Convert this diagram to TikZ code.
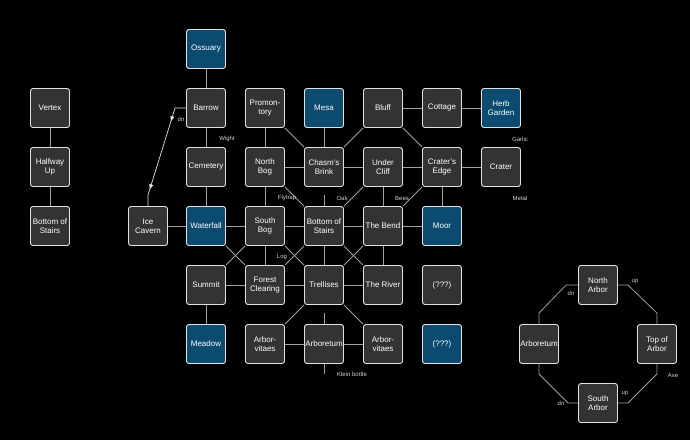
\documentclass[tikz,border=0pt]{standalone}
\usepackage{fontspec}
\setmainfont{Liberation Sans}
\usepackage{xcolor}
\usepackage{tikz}
\usetikzlibrary{arrows.meta, calc, decorations.markings}

\definecolor{roomfill}{HTML}{333333}
\definecolor{roomblue}{HTML}{0B4B6F}
\definecolor{roomedge}{HTML}{E2E2E2}
\definecolor{linkgray}{HTML}{A0A0A0}
\definecolor{lbltext}{HTML}{D4D4D4}

\begin{document}
\begin{tikzpicture}[
    x=1pt, y=-1pt,
    room/.style={draw=roomedge, fill=roomfill, rounded corners=2.5pt, line width=0.9pt, minimum size=39pt, inner sep=0.5pt, align=center, text=white, font=\fontsize{8}{8.6}\selectfont},
    water/.style={room, fill=roomblue},
    link/.style={draw=linkgray, line width=0.8pt},
    dnlink/.style={draw=roomedge, line width=0.7pt, postaction={decorate}, decoration={markings,
        mark=at position 0.22 with {\arrow{Triangle[length=5pt, width=4pt]}},
        mark=at position 0.85 with {\arrow{Triangle[length=5pt, width=4pt]}}}},
    lbl/.style={font=\fontsize{6}{7}\selectfont, text=lbltext, inner sep=0pt}
]
    \useasboundingbox (0,0) rectangle (690,440);
    \fill[black] (0,0) rectangle (690,440);

    % === Stairs (left) ===
    \node[room] (vertex) at (50,108) {Vertex};
    \node[room] (halfway) at (50,167) {Halfway\\Up};
    \node[room] (bottom) at (50,226) {Bottom of\\Stairs};

    % === Main grid ===
    \node[water] (oss) at (206,49) {Ossuary};

    \node[room] (bar) at (206,108) {Barrow};
    \node[room] (prom) at (265,108) {Promon-\\tory};
    \node[water] (mesa) at (324,108) {Mesa};
    \node[room] (bluff) at (383,108) {Bluff};
    \node[room] (cott) at (442,108) {Cottage};
    \node[water] (herb) at (501,108) {Herb\\Garden};

    \node[room] (cem) at (206,167) {Cemetery};
    \node[room] (nbog) at (265,167) {North\\Bog};
    \node[room] (chasm) at (324,167) {Chasm's\\Brink};
    \node[room] (ucliff) at (383,167) {Under\\Cliff};
    \node[room] (cedge) at (442,167) {Crater's\\Edge};
    \node[room] (crater) at (501,167) {Crater};

    \node[room] (ice) at (148,226) {Ice\\Cavern};
    \node[water] (wat) at (206,226) {Waterfall};
    \node[room] (sbog) at (265,226) {South\\Bog};
    \node[room] (bos) at (324,226) {Bottom of\\Stairs};
    \node[room] (bend) at (383,226) {The Bend};
    \node[water] (moor) at (442,226) {Moor};

    \node[room] (summit) at (206,285) {Summit};
    \node[room] (forest) at (265,285) {Forest\\Clearing};
    \node[room] (trel) at (324,285) {Trellises};
    \node[room] (river) at (383,285) {The River};
    \node[room] (unka) at (442,285) {(???)};

    \node[water] (meadow) at (206,344) {Meadow};
    \node[room] (avla) at (265,344) {Arbor-\\vitaes};
    \node[room] (arb) at (324,344) {Arboretum};
    \node[room] (avlb) at (383,344) {Arbor-\\vitaes};
    \node[water] (unkb) at (442,344) {(???)};

    \foreach \a/\b in {vertex/halfway, halfway/bottom,
        oss/bar, bar/cem, cem/wat, ice/wat, wat/sbog, wat/forest, sbog/summit,
        prom/nbog, prom/chasm, mesa/chasm, bluff/chasm, bluff/cott, cott/herb, bluff/cedge,
        nbog/chasm, chasm/ucliff, ucliff/cedge, cedge/crater,
        nbog/sbog, nbog/bos, ucliff/bos, ucliff/bend, cedge/bend, cedge/moor,
        sbog/bos, bos/bend, bend/moor, sbog/forest, sbog/trel, bos/forest,
        bos/trel, bos/river, bend/trel, bend/river,
        summit/forest, summit/meadow, forest/trel, trel/river,
        trel/avla, trel/avlb, avla/arb, arb/avlb}
        \draw[link] (\a) -- (\b);

    % stubs to elsewhere
    \coordinate (bosup) at (324,195);
    \coordinate (arbup) at (324,313);
    \coordinate (arbdn) at (324,374);
    \draw[link] (bos.north) -- (bosup);
    \draw[link] (arb.north) -- (arbup);
    \draw[link] (arb.south) -- (arbdn);

    % slide down to the cavern
    \draw[dnlink] (bar.west) -- ++(-11,0) -- ($(ice.north)+(0,-11)$) -- (ice.north);

    \node[lbl] at (181,119) {dn};
    \node[lbl] at (227,139) {Wight};
    \node[lbl] at (287,198) {Flytrap};
    \node[lbl] at (342,198) {Oak};
    \node[lbl] at (402,198) {Bees};
    \node[lbl] at (520,139) {Garlic};
    \node[lbl] at (520,198) {Metal};
    \node[lbl] at (282,257) {Log};
    \node[lbl] at (352,374) {Klein bottle};

    % === Arbor ring (right) ===
    \node[room] (narb) at (598,285) {North\\Arbor};
    \node[room] (oarb) at (539,344) {Arboretum};
    \node[room] (topa) at (657,344) {Top of\\Arbor};
    \node[room] (sarb) at (598,403) {South\\Arbor};

    \draw[link] (narb.west) -- ++(-12,0) -- ($(oarb.north)+(0,-11)$) -- (oarb.north);
    \draw[link] (narb.east) -- ++(10,0) -- ($(topa.north)+(0,-11)$) -- (topa.north);
    \draw[link] (oarb.south) -- ++(0,10) -- ($(sarb.west)+(-10,0)$) -- (sarb.west);
    \draw[link] (topa.south) -- ++(0,10) -- ($(sarb.east)+(10,0)$) -- (sarb.east);

    \node[lbl] at (571,293) {dn};
    \node[lbl] at (635,282) {up};
    \node[lbl] at (625,393) {up};
    \node[lbl] at (561,403) {dn};
    \node[lbl] at (673,375) {Axe};
\end{tikzpicture}
\end{document}
